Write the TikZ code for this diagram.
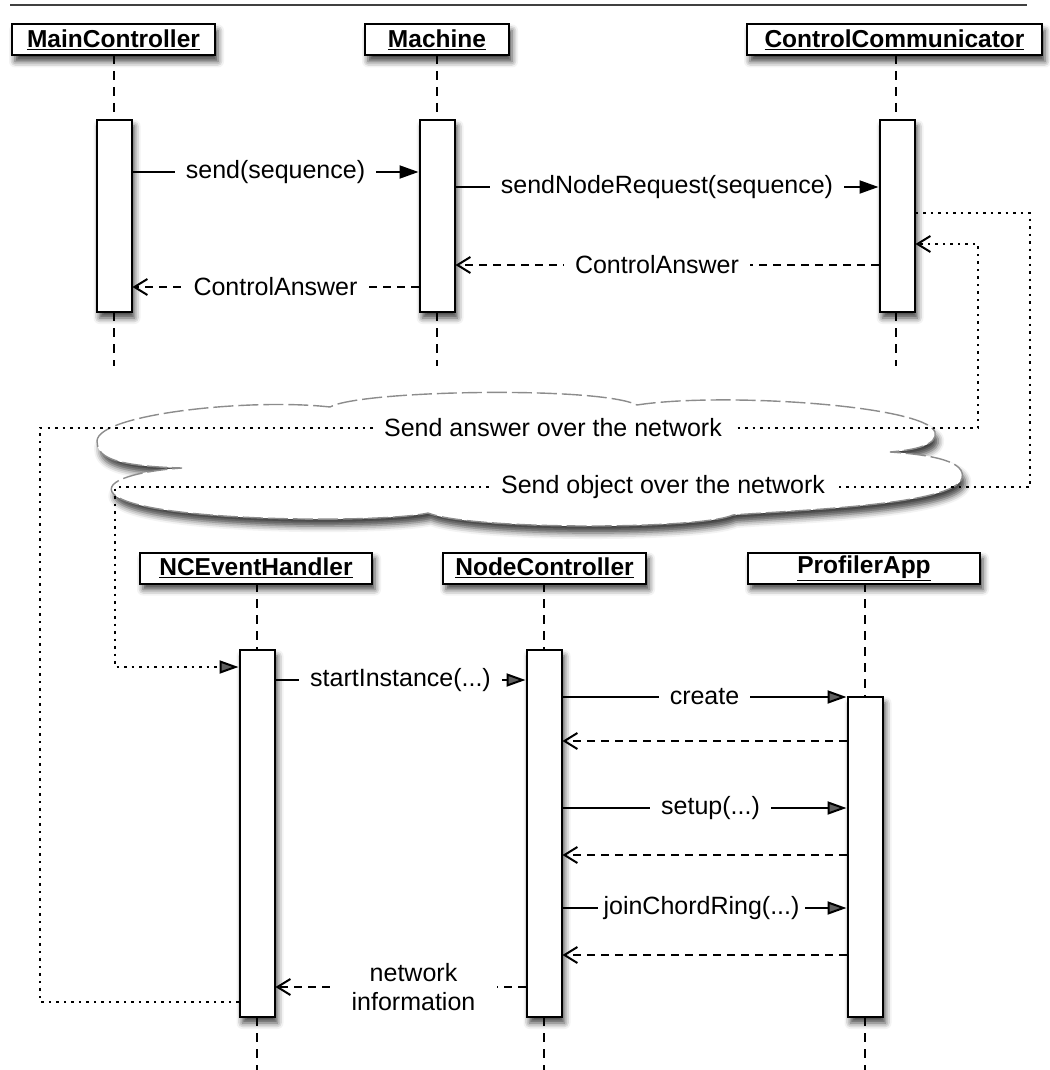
\documentclass[tikz,border=0pt]{standalone}
\usepackage{fontspec}
\setmainfont{Liberation Sans}
\usetikzlibrary{arrows.meta,shadows.blur}

\begin{document}
\begin{tikzpicture}[x=1pt,y=-1pt,
  txt/.style={font=\fontsize{25}{29}\selectfont},
  sh/.style={blur shadow={shadow xshift=3pt,shadow yshift=-6pt,shadow blur radius=6pt,shadow opacity=75}},
  header/.style={draw,line width=2pt,fill=white,minimum height=31pt,inner sep=0pt,
    font=\bfseries\fontsize{24.5}{29}\selectfont,sh},
  act/.style={draw,line width=2pt,fill=white,minimum width=35pt,inner sep=0pt,sh},
  life/.style={line width=2pt,dash pattern=on 9pt off 7pt},
  msg/.style={line width=2pt,-{Triangle[length=19pt,width=13pt]}},
  ret/.style={line width=2pt,dash pattern=on 8pt off 6pt,-{Straight Barb[length=13pt,width=16pt,line width=2pt]}},
  lbl/.style={txt,fill=white,inner xsep=11pt,inner ysep=1pt},
  net/.style={line width=2pt,dash pattern=on 2.5pt off 5pt}]

\useasboundingbox (0,0) rectangle (1049,1070);

% rule across the top
\draw[line width=1.5pt,black!75] (10,5) -- (1027,5);

% ---------- upper group ----------
\node[header,minimum width=203pt] (hMC) at (113.5,40) {\underline{MainController}};
\node[header,minimum width=144pt] (hMa) at (437,40) {\underline{Machine}};
\node[header,minimum width=295pt] (hCC) at (894.5,40) {\underline{ControlCommunicator}};

\draw[life] (114,55) -- (114,120) (114,312) -- (114,366);
\draw[life] (437,55) -- (437,120) (437,312) -- (437,366);
\draw[life] (896,55) -- (896,120) (896,312) -- (896,366);

\node[act,minimum height=192pt] (aMC) at (114,216) {};
\node[act,minimum height=192pt] (aMa) at (437,216) {};
\node[act,minimum height=192pt] (aCC) at (897,216) {};

\draw[msg] (aMC.east |- 0,172) -- (aMa.west |- 0,172) node[lbl,midway] (m1) {send(sequence)};
\draw[msg] (aMa.east |- 0,187) -- (aCC.west |- 0,187) node[lbl,midway] (m2) {sendNodeRequest(sequence)};
\draw[ret] (aCC.west |- 0,265) -- (aMa.east |- 0,265) node[lbl,midway,xshift=-10pt] (m3) {ControlAnswer};
\draw[ret] (aMa.west |- 0,287) -- (aMC.east |- 0,287) node[lbl,midway] (m4) {ControlAnswer};

% ---------- network cloud ----------
\path[fill=white,draw=black!45,line width=1.4pt,dash pattern=on 20pt off 5pt,
  blur shadow={shadow xshift=3pt,shadow yshift=-7pt,shadow blur radius=6pt,shadow opacity=75}]
  (97,441) .. controls (98,414) and (250,398) .. (330,407)
  .. controls (360,390) and (600,386) .. (637,405)
  .. controls (720,392) and (925,405) .. (935,432)
  .. controls (938,445) and (915,450) .. (890,452)
  .. controls (935,455) and (966,462) .. (962,478)
  .. controls (955,505) and (800,510) .. (733,515)
  .. controls (700,530) and (470,530) .. (428,513)
  .. controls (380,524) and (130,522) .. (112,492)
  .. controls (105,478) and (150,470) .. (182,468)
  .. controls (110,466) and (97,456) .. (97,441) -- cycle;

% ---------- lower group ----------
\node[header,minimum width=232pt] (hNE) at (256,568) {\underline{NCEventHandler}};
\node[header,minimum width=203pt] (hNC) at (544.5,568) {\underline{NodeController}};
\node[header,minimum width=232pt] (hPA) at (864,568) {\underline{ProfilerApp}};

\draw[life] (257,583) -- (257,650) (257,1017) -- (257,1070);
\draw[life] (544,583) -- (544,650) (544,1017) -- (544,1070);
\draw[life] (865,583) -- (865,697) (865,1017) -- (865,1070);

\node[act,minimum height=367pt] (aNE) at (257,833.5) {};
\node[act,minimum height=367pt] (aNC) at (544,833.5) {};
\node[act,minimum height=320pt] (aPA) at (865,857) {};

% messages crossing the network
\draw[net,-{Triangle[length=19pt,width=13pt]}] (aCC.east |- 0,213) -| (1030,487) -- (115,487) |- (aNE.west |- 0,667);
\node[lbl] (sobj) at (663,487) {Send object over the network};
\draw[net,-{Straight Barb[length=13pt,width=16pt,line width=2pt]}] (aNE.west |- 0,1002) -| (40,428) -- (978,428) |- (aCC.east |- 0,244);
\node[lbl] (sans) at (553,428) {Send answer over the network};

\draw[msg] (aNE.east |- 0,680) -- (aNC.west |- 0,680) node[lbl,midway] (n1) {startInstance(...)};
\draw[msg] (aNC.east |- 0,697) -- (aPA.west |- 0,697) node[lbl,midway] (n2) {create};
\draw[ret] (aPA.west |- 0,741) -- (aNC.east |- 0,741);
\draw[msg] (aNC.east |- 0,808) -- (aPA.west |- 0,808) node[lbl,midway,xshift=6pt] (n3) {setup(...)};
\draw[ret] (aPA.west |- 0,855) -- (aNC.east |- 0,855);
\draw[msg] (aNC.east |- 0,908) -- (aPA.west |- 0,908) node[lbl,midway,xshift=-3pt,inner xsep=6pt] (n4) {joinChordRing(...)};
\draw[ret] (aPA.west |- 0,955) -- (aNC.east |- 0,955);
\draw[ret] (aNC.west |- 0,987) -- (aNE.east |- 0,987)
  node[lbl,midway,xshift=13pt,align=center,inner xsep=22pt] (n5) {network\\information};
\end{tikzpicture}
\end{document}
